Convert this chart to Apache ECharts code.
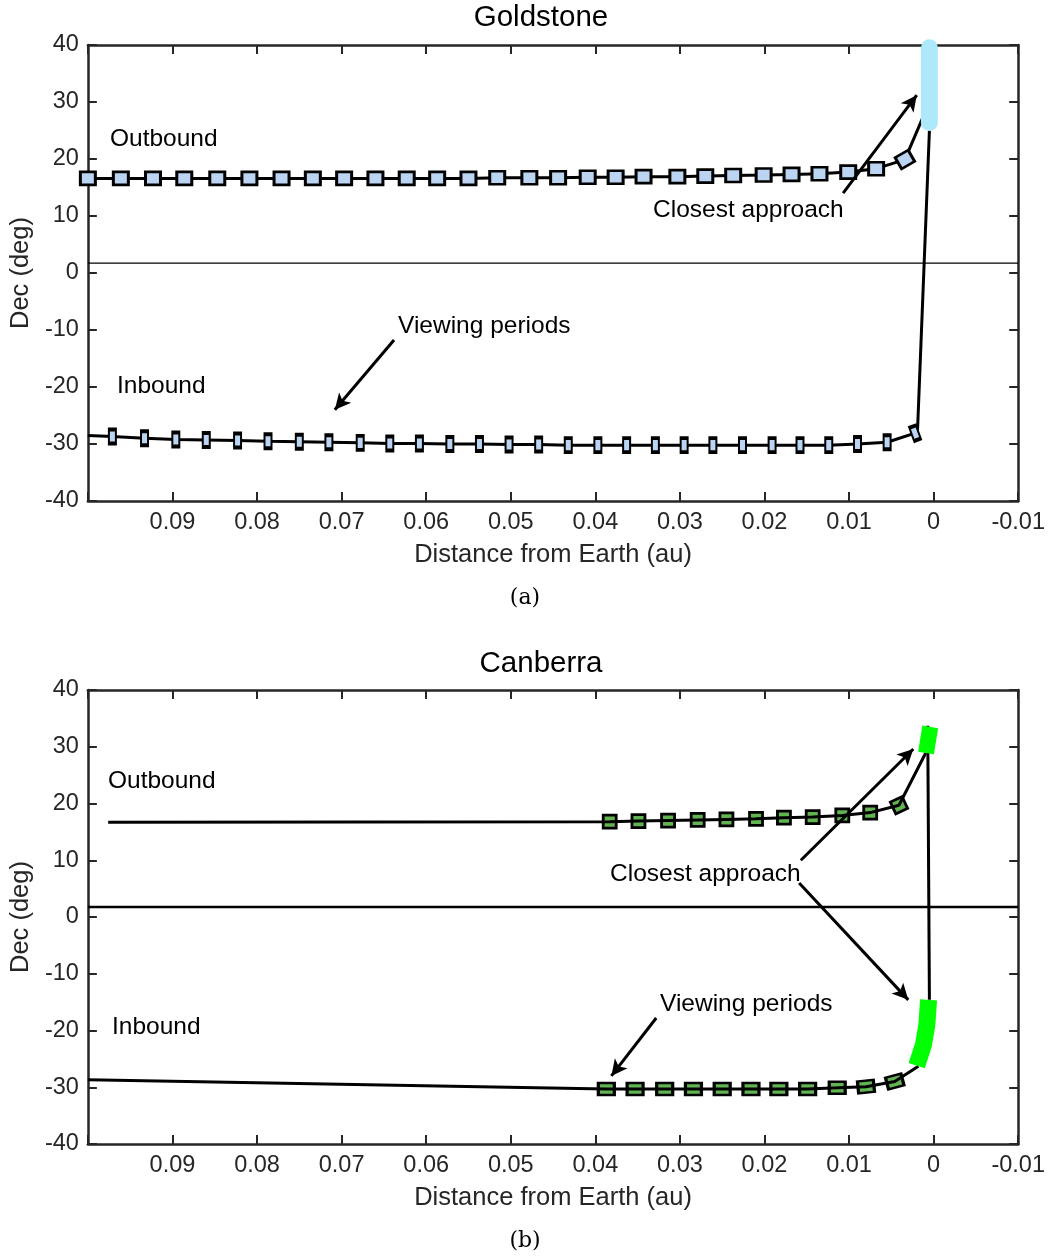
<!DOCTYPE html>
<html>
<head>
<meta charset="utf-8">
<script src="https://cdn.jsdelivr.net/npm/echarts@6/dist/echarts.min.js"></script>
<style>html,body{margin:0;padding:0;background:#fff;}#c{width:1048px;height:1256px;}</style>
</head>
<body>
<div id="c"></div>
<script>
// ---------- DATA ----------
const xTicks = [-0.01, 0, 0.01, 0.02, 0.03, 0.04, 0.05, 0.06, 0.07, 0.08, 0.09, 0.1];
const yTicks = [-40, -30, -20, -10, 0, 10, 20, 30, 40];
const refLineDec = 1.75;

// Goldstone (a)
const gOutMarkX = [0.1000,0.0961,0.0923,0.0886,0.0847,0.0809,0.0771,0.0734,0.0697,0.0660,0.0623,0.0587,0.0550,0.0516,0.0478,0.0444,0.0409,0.0376,0.0343,0.0303,0.0270,0.0237,0.0201,0.0168,0.0135,0.0101,0.0068,0.0034];
const gOutMarkY = [16.6,16.6,16.6,16.6,16.6,16.6,16.6,16.6,16.6,16.6,16.6,16.6,16.6,16.7,16.7,16.7,16.8,16.8,16.9,16.9,17.0,17.1,17.2,17.3,17.4,17.7,18.3,19.9];
const gOutEnd = [0.0013, 27.2];
const gInStart = [0.1, -28.5];
const gInMarkX = [0.0971,0.0933,0.0896,0.0860,0.0823,0.0787,0.0750,0.0715,0.0678,0.0643,0.0608,0.0572,0.0537,0.0502,0.0467,0.0432,0.0397,0.0363,0.0329,0.0295,0.0261,0.0226,0.0191,0.0158,0.0124,0.0090,0.0055,0.0022];
const gInMarkY = [-28.7,-29.0,-29.2,-29.3,-29.4,-29.5,-29.6,-29.7,-29.8,-29.9,-29.9,-30.0,-30.0,-30.1,-30.1,-30.2,-30.2,-30.2,-30.2,-30.2,-30.2,-30.2,-30.2,-30.2,-30.2,-30.0,-29.7,-28.1];
const gInTail = [[0.0019,-27.4],[0.0005,25.0]];
const gView = [[0.0005,26.4],[0.0005,39.5]];

// Canberra (b)
const cOutStart = [0.0976, 16.7];
const cOutMarkX = [0.0383,0.0349,0.0314,0.0279,0.0245,0.0210,0.0177,0.0143,0.0108,0.0075,0.0041];
const cOutMarkY = [16.8,16.9,17.0,17.1,17.2,17.3,17.5,17.6,17.9,18.4,19.7];
const cOutEnd = [0.00094, 28.9];
const cViewTop = [[0.0009,28.9],[0.0004,33.5]];
const cApproach = [[0.0007,33.7],[0.0005,-14.6]];
const cInStart = [0.1, -28.7];
const cInMarkX = [0.0387,0.0353,0.0318,0.0284,0.0250,0.0216,0.0183,0.0149,0.0114,0.0080,0.0046];
const cInMarkY = [-30.3,-30.3,-30.3,-30.3,-30.3,-30.3,-30.3,-30.3,-30.1,-29.9,-29.0];
const cInEnd = [0.0018, -26.3];
const cViewBot = [[0.0020,-26.2],[0.0012,-22.5],[0.0008,-19.0],[0.0006,-14.6]];

// annotation arrows [from, to] in data coords
const gArrows = [[[0.0107,14.0],[0.0020,31.2]], [[0.0638,-11.75],[0.0708,-24.0]]];
const cArrows = [[[0.0157,10.0],[0.0024,29.6]], [[0.0159,6.0],[0.0030,-14.6]], [[0.0328,-17.8],[0.0381,-28.0]]];

// ---------- BUILD ----------
const zip = (xs, ys) => xs.map((x, i) => [x, ys[i]]);
const FONT = 'Liberation Sans, Arial, Helvetica, sans-serif';
const AX = '#262626';
const LW = 3;

function xAxes(grid) {
  const base = {
    type: 'value', gridIndex: grid, min: -0.01, max: 0.1, interval: 0.01, inverse: true,
    axisLine: { show: true, onZero: false, lineStyle: { color: AX, width: 2.5 } },
    axisTick: { show: true, inside: true, length: 9, lineStyle: { color: AX, width: 2 } },
    splitLine: { show: false }
  };
  return [
    Object.assign({}, base, {
      position: 'bottom',
      axisLabel: { show: true, margin: 10, color: AX, fontSize: 23.5, fontFamily: FONT,
        formatter: v => Math.abs(v - 0.1) < 1e-9 ? '' : String(+v.toFixed(2)) },
      name: 'Distance from Earth (au)', nameLocation: 'middle', nameGap: 41,
      nameTextStyle: { color: AX, fontSize: 25.5, fontFamily: FONT }
    }),
    Object.assign({}, base, { position: 'top', axisLabel: { show: false } })
  ];
}
function yAxes(grid) {
  const base = {
    type: 'value', gridIndex: grid, min: -40, max: 40, interval: 10,
    axisLine: { show: true, onZero: false, lineStyle: { color: AX, width: 2.5 } },
    axisTick: { show: true, inside: true, length: 9, lineStyle: { color: AX, width: 2 } },
    splitLine: { show: false }
  };
  return [
    Object.assign({}, base, {
      position: 'left',
      axisLabel: { show: true, margin: 9, color: AX, fontSize: 23.5, fontFamily: FONT },
      name: 'Dec (deg)', nameLocation: 'middle', nameGap: 47,
      nameTextStyle: { color: AX, fontSize: 25.5, fontFamily: FONT }
    }),
    Object.assign({}, base, { position: 'right', axisLabel: { show: false } })
  ];
}

function pathSeries(xi, yi, data, opts) {
  return Object.assign({
    type: 'line', xAxisIndex: xi, yAxisIndex: yi, data: data, symbol: 'none',
    lineStyle: { color: '#000', width: LW }, z: 3, animation: false, silent: true
  }, opts || {});
}
function markerSeries(xi, yi, xs, ys, size, fill, z, rot) {
  const d = zip(xs, ys).map((p, i) => {
    const o = { value: p };
    if (rot && rot[i] !== undefined) o.symbolRotate = rot[i];
    return o;
  });
  return {
    type: 'scatter', xAxisIndex: xi, yAxisIndex: yi, data: d, symbol: 'rect', symbolSize: size,
    itemStyle: { color: fill, borderColor: '#000', borderWidth: 2.8, opacity: 1 },
    z: z, animation: false, silent: true
  };
}
function arrowSeries(xi, yi, arrows) {
  return {
    type: 'line', xAxisIndex: xi, yAxisIndex: yi, data: [], symbol: 'none', z: 6, animation: false, silent: true,
    markLine: {
      silent: true, animation: false, symbol: ['none', 'arrow'], symbolSize: [12, 16],
      lineStyle: { color: '#000', width: LW, type: 'solid' }, label: { show: false },
      data: arrows.map(a => [{ coord: a[0] }, { coord: a[1] }])
    }
  };
}

const gOutMarks = zip(gOutMarkX, gOutMarkY);
const gInMarks = zip(gInMarkX, gInMarkY);
const cOutMarks = zip(cOutMarkX, cOutMarkY);
const cInMarks = zip(cInMarkX, cInMarkY);

const gOutRot = {}; gOutRot[gOutMarkX.length - 1] = 30;
const cOutRot = {}; cOutRot[cOutMarkX.length - 1] = 25;
const cInRot = {}; cInRot[cInMarkX.length - 1] = 15; cInRot[cInMarkX.length - 2] = 6;
const gInRot = {}; gInRot[gInMarkX.length - 1] = 20;

const series = [
  // ---- Goldstone ----
  pathSeries(0, 0, [[0.1, refLineDec], [-0.01, refLineDec]], { lineStyle: { color: '#000', width: 1.2 }, z: 2 }),
  pathSeries(0, 0, gOutMarks.concat([gOutEnd])),
  pathSeries(0, 0, [gInStart].concat(gInMarks, gInTail)),
  pathSeries(0, 0, gView, { lineStyle: { color: '#aee9fb', width: 17, cap: 'round' }, clip: false, z: 5 }),
  markerSeries(0, 0, gOutMarkX, gOutMarkY, [15, 13], '#bad4f1', 4, gOutRot),
  markerSeries(0, 0, gInMarkX, gInMarkY, [7, 14], '#bad4f1', 4, gInRot),
  arrowSeries(0, 0, gArrows),
  // ---- Canberra ----
  pathSeries(2, 2, [[0.1, refLineDec], [-0.01, refLineDec]], { lineStyle: { color: '#000', width: 2.5 }, z: 2 }),
  markerSeries(2, 2, cOutMarkX, cOutMarkY, [13, 13], '#62b352', 3, cOutRot),
  markerSeries(2, 2, cInMarkX, cInMarkY, [16, 12], '#62b352', 3, cInRot),
  pathSeries(2, 2, [cOutStart].concat(cOutMarks, [cOutEnd]), { z: 4 }),
  pathSeries(2, 2, [cInStart].concat(cInMarks, [cInEnd]), { z: 4 }),
  pathSeries(2, 2, cApproach, { z: 4 }),
  pathSeries(2, 2, cViewTop, { lineStyle: { color: '#00ff00', width: 16, cap: 'butt' }, z: 5 }),
  pathSeries(2, 2, cViewBot, { lineStyle: { color: '#00ff00', width: 17, cap: 'butt', join: 'round' }, z: 5 }),
  arrowSeries(2, 2, cArrows)
];

function txt(x, y, s, size, family, align) {
  return {
    type: 'text', x: x, y: y, z: 100, silent: true,
    style: { text: s, fill: '#000', font: size + 'px ' + (family || FONT), textAlign: align || 'left', textVerticalAlign: 'middle' }
  };
}
const serif = 'DejaVu Serif, Liberation Serif, serif';

const option = {
  animation: false,
  backgroundColor: '#fff',
  grid: [
    { left: 84, top: 45, width: 935, height: 456, containLabel: false },
    { left: 87, top: 690, width: 933, height: 454, containLabel: false }
  ],
  xAxis: xAxes(0).concat(xAxes(1)),
  yAxis: yAxes(0).concat(yAxes(1)),
  series: series,
  graphic: [
    txt(541, 18, 'Goldstone', 29.5, FONT, 'center'),
    txt(541, 664, 'Canberra', 29.5, FONT, 'center'),
    txt(525, 598, '(a)', 22, serif, 'center'),
    txt(525, 1241, '(b)', 22, serif, 'center'),
    txt(110, 139, 'Outbound', 24.5),
    txt(117, 386, 'Inbound', 24.5),
    txt(653, 210, 'Closest approach', 24.5),
    txt(398, 326, 'Viewing periods', 24.5),
    txt(108, 781, 'Outbound', 24.5),
    txt(112, 1027, 'Inbound', 24.5),
    txt(610, 874, 'Closest approach', 24.5),
    txt(660, 1004, 'Viewing periods', 24.5)
  ]
};

const chart = echarts.init(document.getElementById('c'), null, { renderer: 'canvas' });
chart.setOption(option);
</script>
</body>
</html>
